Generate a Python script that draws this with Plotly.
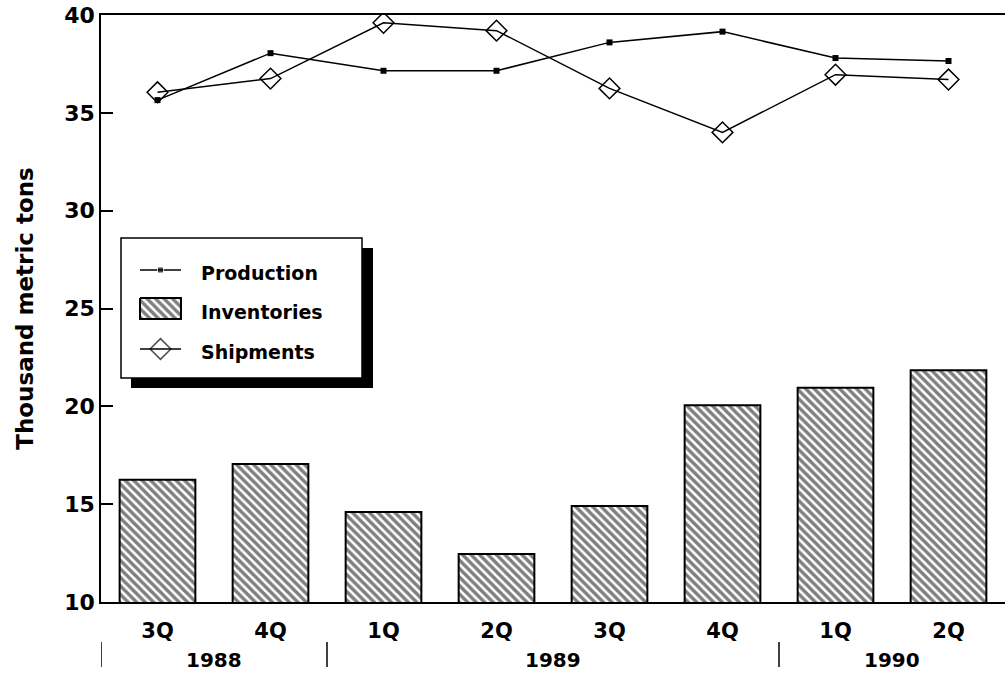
import plotly.graph_objects as go

quarters = ["3Q", "4Q", "1Q", "2Q", "3Q", "4Q", "1Q", "2Q"]
years = ["1988", "1989", "1990"]
year_centers = [0.5, 3.5, 6.5]
year_breaks = [-0.5, 1.5, 5.5]
production = [35.65, 38.05, 37.15, 37.15, 38.6, 39.15, 37.8, 37.65]
inventories = [16.25, 17.05, 14.6, 12.45, 14.9, 20.05, 20.95, 21.85]
shipments = [36.05, 36.75, 39.6, 39.2, 36.25, 34.0, 36.95, 36.7]
series_names = ["Production", "Inventories", "Shipments"]

xpos = list(range(len(quarters)))
FONT = "DejaVu Sans"

# layout geometry (pixels) -> data coordinates for the hand-drawn legend
L, T, W, H = 101, 15, 904, 587
XR = (-0.5, 7.5)
YR = (10, 40)
def px2x(px):
    return XR[0] + (px - L) / W * (XR[1] - XR[0])
def px2y(py):
    return YR[1] - (py - T) / H * (YR[1] - YR[0])
def py2paper(py):
    return 1 - (py - T) / H

HATCH = dict(shape="\\", fgcolor="black", bgcolor="white", size=6, solidity=0.58)

fig = go.Figure()
fig.add_trace(go.Bar(
    x=xpos, y=inventories, name=series_names[1], width=0.67,
    marker=dict(color="white", line=dict(color="black", width=2), pattern=HATCH),
))
fig.add_trace(go.Scatter(
    x=xpos, y=production, name=series_names[0], mode="lines+markers",
    line=dict(color="black", width=1.5),
    marker=dict(symbol="square", size=6, color="black"),
))
fig.add_trace(go.Scatter(
    x=xpos, y=shipments, name=series_names[2], mode="lines+markers",
    line=dict(color="black", width=1.5),
    marker=dict(symbol="diamond-open", size=16, color="black", line=dict(width=1.5)),
))

# ---- hand-drawn legend (box with drop shadow) ----
sym_x0, sym_x1, sym_xc = px2x(140), px2x(181), px2x(160.5)
row_y = [270, 309, 349]
fig.add_trace(go.Scatter(
    x=[sym_x0, sym_xc, sym_x1], y=[px2y(row_y[0])] * 3, mode="lines+markers",
    line=dict(color="black", width=1.5),
    marker=dict(symbol="square", size=[0, 6, 0], color="black"),
    hoverinfo="skip", showlegend=False,
))
fig.add_trace(go.Scatter(
    x=[sym_x0, sym_x1, sym_x1, sym_x0, sym_x0],
    y=[px2y(298), px2y(298), px2y(319), px2y(319), px2y(298)],
    mode="lines", fill="toself", fillcolor="white", fillpattern=HATCH,
    line=dict(color="black", width=2), hoverinfo="skip", showlegend=False,
))
fig.add_trace(go.Scatter(
    x=[sym_x0, sym_xc, sym_x1], y=[px2y(row_y[2])] * 3, mode="lines+markers",
    line=dict(color="black", width=1.5),
    marker=dict(symbol="diamond-open", size=[0, 16, 0], color="black", line=dict(width=1.5)),
    hoverinfo="skip", showlegend=False,
))

shapes = [
    dict(type="rect", xref="x", yref="y", x0=px2x(131), x1=px2x(373),
         y0=px2y(388), y1=px2y(248), fillcolor="black", line=dict(width=0), layer="below"),
    dict(type="rect", xref="x", yref="y", x0=px2x(121), x1=px2x(362),
         y0=px2y(378), y1=px2y(238), fillcolor="white",
         line=dict(color="black", width=1.5), layer="below"),
]
for b in year_breaks:
    shapes.append(dict(type="line", xref="x", yref="paper", x0=b, x1=b,
                       y0=py2paper(642), y1=py2paper(667), line=dict(color="black", width=1.5)))

annotations = []
for name, ry in zip(series_names, row_y):
    annotations.append(dict(x=px2x(199), y=px2y(ry + 3), xref="x", yref="y", text=name,
                            showarrow=False, xanchor="left", yanchor="middle",
                            font=dict(family=FONT, size=19, color="black", weight="bold")))
for yr, c in zip(years, year_centers):
    annotations.append(dict(x=c, y=py2paper(660), xref="x", yref="paper", text=yr,
                            showarrow=False, yanchor="middle",
                            font=dict(family=FONT, size=20, color="black", weight="bold")))

fig.update_layout(
    width=1005, height=673, autosize=False,
    margin=dict(l=L, r=1005 - L - W, t=T, b=673 - T - H, pad=0),
    plot_bgcolor="white", paper_bgcolor="white",
    barmode="overlay",
    showlegend=False,
    shapes=shapes,
    annotations=annotations,
    xaxis=dict(range=list(XR), tickvals=xpos, ticktext=quarters, automargin=False,
               showline=True, linecolor="black", linewidth=1.5, mirror=True,
               ticks="", ticklabelstandoff=9, showgrid=False, zeroline=False,
               tickfont=dict(family=FONT, size=21, color="black", weight="bold")),
    yaxis=dict(range=list(YR), tickvals=[10, 15, 20, 25, 30, 35, 40], automargin=False,
               showline=True, linecolor="black", linewidth=1.5,
               ticks="inside", ticklen=12, tickwidth=1.5, tickcolor="black",
               showgrid=False, zeroline=False,
               tickfont=dict(family=FONT, size=22, color="black", weight="bold"),
               title=dict(text="Thousand metric tons", standoff=24,
                          font=dict(family=FONT, size=23, color="black", weight="bold"))),
)

fig.write_html("out.html", config={"responsive": False, "displayModeBar": False},
               post_script="document.body.style.margin='0';document.body.style.overflow='hidden';")
